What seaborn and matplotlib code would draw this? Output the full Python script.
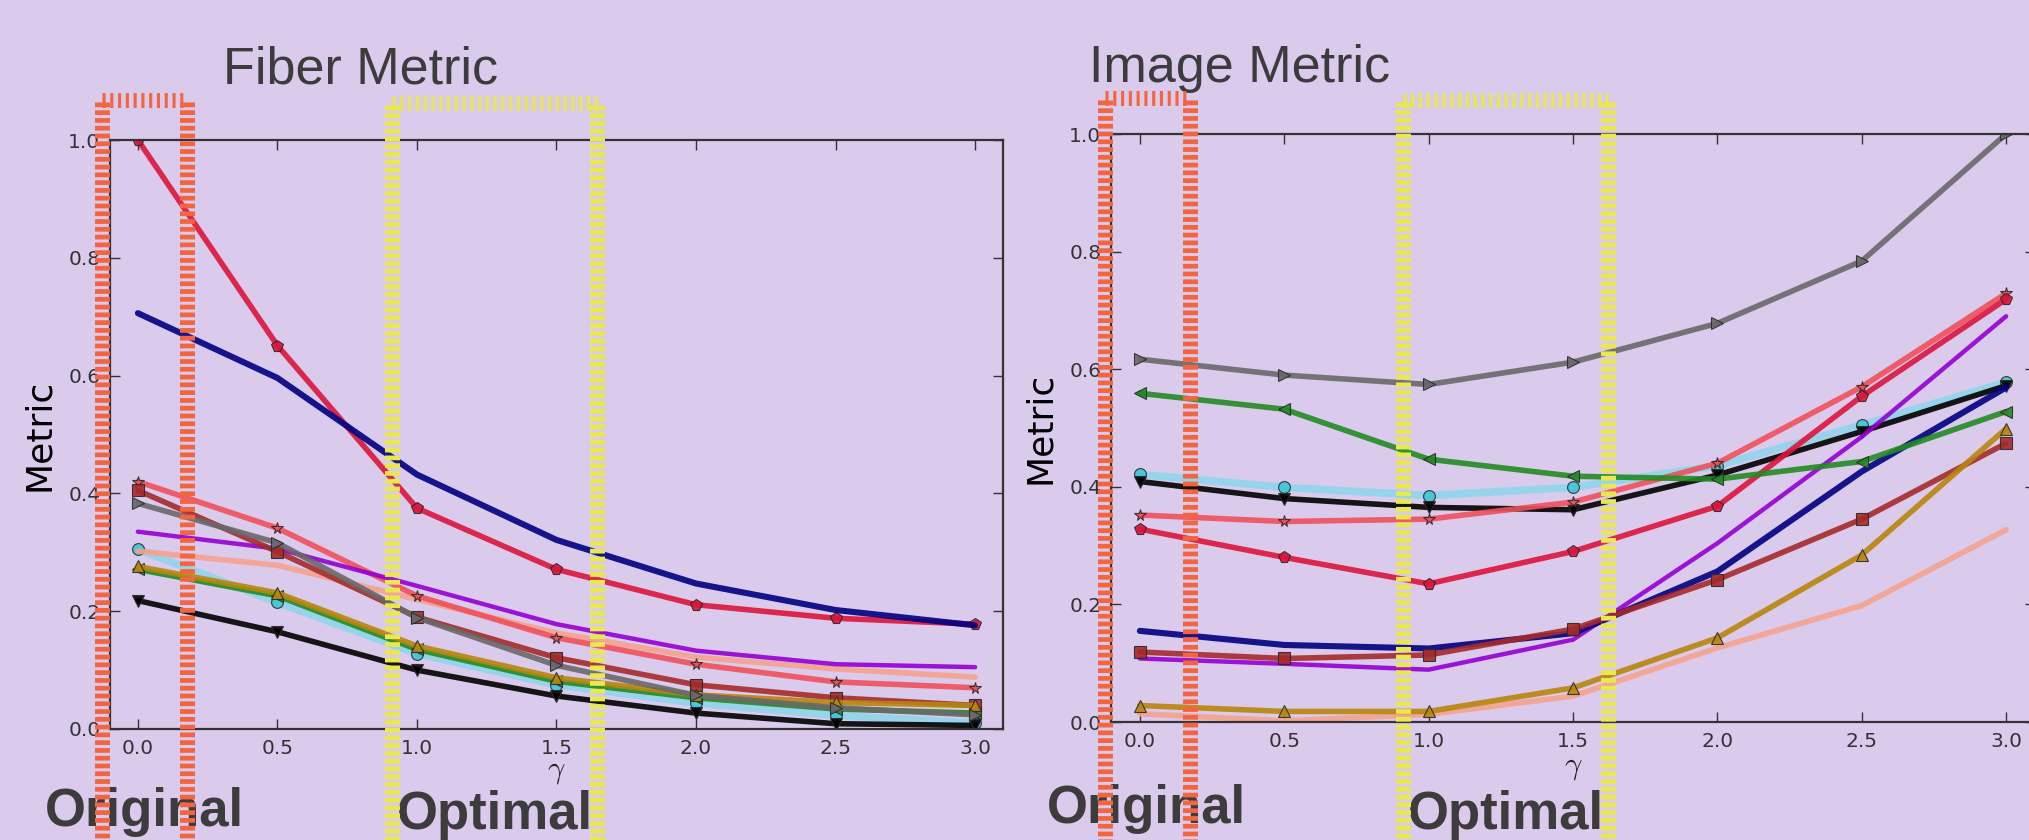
import matplotlib
matplotlib.use("Agg")
import matplotlib.pyplot as plt
from matplotlib.lines import Line2D
import seaborn as sns

# gamma values on the x axis
gamma = [0.0, 0.5, 1.0, 1.5, 2.0, 2.5, 3.0]

# Fiber metric curves
fiber_crimson = [1.0, 0.651, 0.375, 0.271, 0.211, 0.188, 0.178]
fiber_navy = [0.706, 0.596, 0.432, 0.321, 0.247, 0.202, 0.176]
fiber_redstar = [0.420, 0.341, 0.226, 0.155, 0.110, 0.080, 0.070]
fiber_brown = [0.405, 0.301, 0.190, 0.121, 0.075, 0.053, 0.040]
fiber_gray = [0.383, 0.316, 0.189, 0.108, 0.057, 0.036, 0.024]
fiber_purple = [0.335, 0.306, 0.243, 0.178, 0.133, 0.110, 0.105]
fiber_salmon = [0.302, 0.278, 0.220, 0.163, 0.122, 0.102, 0.088]
fiber_skyblue = [0.305, 0.215, 0.128, 0.075, 0.044, 0.023, 0.010]
fiber_green = [0.271, 0.226, 0.135, 0.081, 0.053, 0.034, 0.027]
fiber_gold = [0.276, 0.231, 0.141, 0.087, 0.058, 0.045, 0.040]
fiber_black = [0.218, 0.165, 0.100, 0.056, 0.027, 0.009, 0.006]

# Image metric curves
image_crimson = [0.328, 0.280, 0.235, 0.290, 0.367, 0.554, 0.719]
image_navy = [0.155, 0.131, 0.125, 0.151, 0.256, 0.426, 0.569]
image_redstar = [0.352, 0.341, 0.345, 0.374, 0.440, 0.570, 0.729]
image_brown = [0.119, 0.108, 0.114, 0.158, 0.242, 0.345, 0.474]
image_gray = [0.617, 0.590, 0.574, 0.612, 0.678, 0.784, 1.0]
image_purple = [0.108, 0.099, 0.089, 0.140, 0.304, 0.485, 0.690]
image_salmon = [0.014, 0.002, 0.013, 0.044, 0.126, 0.198, 0.327]
image_skyblue = [0.421, 0.399, 0.385, 0.399, 0.436, 0.505, 0.578]
image_green = [0.559, 0.532, 0.447, 0.418, 0.413, 0.443, 0.528]
image_gold = [0.028, 0.018, 0.018, 0.058, 0.143, 0.284, 0.499]
image_black = [0.409, 0.380, 0.365, 0.361, 0.420, 0.494, 0.572]

y_ticks = [0.0, 0.2, 0.4, 0.6, 0.8, 1.0]
x_ticks = [0.0, 0.5, 1.0, 1.5, 2.0, 2.5, 3.0]

BG = "#dacaec"
TEXT = "#3c3c3c"
ORANGE = "#f2653e"
YELLOW = "#e9e84c"

# style per series: (color, marker, linewidth)
STYLES = {
    "skyblue": ("#90d6ec", "o", 5.5),
    "black": ("#000000", "v", 4.0),
    "salmon": ("#f4a28e", None, 4.0),
    "redstar": ("#f0505a", "*", 4.0),
    "crimson": ("#dc143c", "p", 4.0),
    "purple": ("#9400d3", None, 3.2),
    "navy": ("#000080", None, 4.4),
    "green": ("#228b22", "<", 4.0),
    "brown": ("#a52a2a", "s", 4.0),
    "gold": ("#b8860b", "^", 4.0),
    "gray": ("#696969", ">", 4.0),
}

fiber = {
    "skyblue": fiber_skyblue, "black": fiber_black, "salmon": fiber_salmon,
    "redstar": fiber_redstar, "crimson": fiber_crimson, "purple": fiber_purple,
    "navy": fiber_navy, "green": fiber_green, "brown": fiber_brown,
    "gold": fiber_gold, "gray": fiber_gray,
}
image = {
    "skyblue": image_skyblue, "black": image_black, "salmon": image_salmon,
    "redstar": image_redstar, "crimson": image_crimson, "purple": image_purple,
    "navy": image_navy, "green": image_green, "brown": image_brown,
    "gold": image_gold, "gray": image_gray,
}

sns.set_style("ticks")
plt.rcParams["font.family"] = ["DejaVu Sans"]
plt.rcParams["mathtext.fontset"] = "cm"
plt.rcParams["lines.scale_dashes"] = False

W, H = 2029, 840
fig = plt.figure(figsize=(W / 100, H / 100), dpi=100, facecolor=BG)


def fx(px):
    return px / W


def fy(py):
    return 1 - py / H


def draw_panel(ax, series, gamma_y):
    ax.set_facecolor(BG)
    for name, vals in series.items():
        color, marker, lw = STYLES[name]
        kw = dict(color=color, linewidth=lw, alpha=0.9, ax=ax)
        if marker:
            mfc = "#3fc6d6" if name == "skyblue" else color
            kw.update(marker=marker, markersize=8.5, markerfacecolor=mfc,
                      markeredgecolor="#2a2a2a", markeredgewidth=0.8)
        sns.lineplot(x=gamma, y=vals, **kw)
    ax.set_xlim(-0.1, 3.1)
    ax.set_ylim(0, 1)
    ax.set_xticks(x_ticks)
    ax.set_yticks(y_ticks)
    ax.set_xticklabels([f"{t:.1f}" for t in x_ticks])
    ax.set_yticklabels([f"{t:.1f}" for t in y_ticks])
    ax.tick_params(direction="in", length=7, width=1, top=True, right=True,
                   labelsize=14.5, labelcolor="#333333", pad=7, color="#333333")
    for s in ax.spines.values():
        s.set_linewidth(1.6)
        s.set_color("#333333")
    ax.set_xlabel(r"$\gamma$", fontsize=22, color="#222222")
    ax.xaxis.set_label_coords(0.5, gamma_y)
    ax.set_ylabel("Metric", fontsize=26, labelpad=9, color="#000000")


ax1 = fig.add_axes([fx(110), fy(729), fx(1003) - fx(110), fy(140) - fy(729)])
ax2 = fig.add_axes([fx(1111), fy(722), fx(2035) - fx(1111), fy(134) - fy(722)])
draw_panel(ax1, fiber, -0.047)
draw_panel(ax2, image, -0.052)

# panel titles and annotations
title_font = ["Liberation Sans", "DejaVu Sans"]
fig.text(fx(223), fy(83), "Fiber Metric", fontsize=37.5, color=TEXT,
         family=title_font, va="baseline", ha="left")
fig.text(fx(1089), fy(82), "Image Metric", fontsize=37.5, color=TEXT,
         family=title_font, va="baseline", ha="left")
for x, y, s in [(45, 826, "Original"), (397, 829, "Optimal"),
                (1047, 823, "Original"), (1408, 829, "Optimal")]:
    fig.text(fx(x), fy(y), s, fontsize=38, fontweight="bold", color=TEXT,
             family=title_font, va="baseline", ha="left", zorder=5)


def dash_line(x0, y0, x1, y1, color):
    vertical = x0 == x1
    dashes = (3.4, 2.2) if vertical else (2.2, 3.4)
    line = Line2D([fx(x0), fx(x1)], [fy(y0), fy(y1)], transform=fig.transFigure,
                  color=color, linewidth=10.8, linestyle=(0, dashes),
                  dash_capstyle="butt", zorder=10)
    fig.add_artist(line)


def bracket(xl, xr, ytop, color):
    dash_line(xl, ytop, xr, ytop, color)
    dash_line(xl, ytop + 2, xl, H, color)
    dash_line(xr, ytop + 2, xr, H, color)


bracket(101.5, 186.5, 99.5, ORANGE)
bracket(391.5, 597, 103, YELLOW)
bracket(1105, 1190, 97.5, ORANGE)
bracket(1403, 1608, 100, YELLOW)

fig.savefig("out.png", dpi=100, facecolor=BG)
